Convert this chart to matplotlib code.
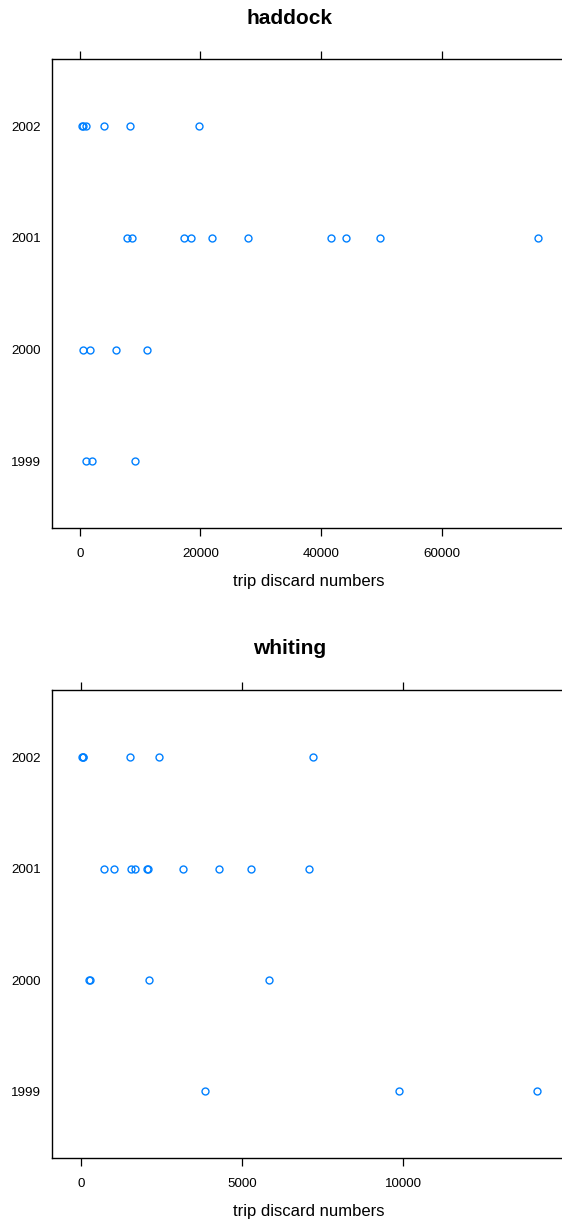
import matplotlib
matplotlib.use('Agg')
import matplotlib.pyplot as plt
import numpy as np

plt.rcParams['font.family'] = ['Liberation Sans', 'DejaVu Sans']

years = ['1999', '2000', '2001', '2002']

# haddock trip discard numbers per year
haddock_1999 = [995, 2090, 9120]
haddock_2000 = [500, 1760, 6070, 11210]
haddock_2001 = [7790, 8720, 17300, 18410, 21990, 27910, 41680, 44210, 49750, 76050]
haddock_2002 = [330, 600, 1045, 4080, 8340, 19830]

# whiting trip discard numbers per year
whiting_1999 = [3860, 9860, 14130]
whiting_2000 = [255, 280, 2095, 5825]
whiting_2001 = [720, 1030, 1545, 1690, 2060, 2085, 3155, 4290, 5260, 7070]
whiting_2002 = [30, 50, 70, 1525, 2420, 7195]

haddock_ticks = [0, 20000, 40000, 60000]
whiting_ticks = [0, 5000, 10000]

blue = '#0080ff'

fig = plt.figure(figsize=(5.62, 12.22), dpi=100)


def panel(rect, groups, ticks, xlim, title, title_y):
    ax = fig.add_axes(rect)
    for i, vals in enumerate(groups):
        ax.plot(vals, [i + 1] * len(vals), 'o', ms=5, mfc='none', mec=blue, mew=1.0,
                clip_on=False)
    ax.set_xlim(*xlim)
    ax.set_ylim(0.4, 4.6)
    ax.set_yticks([1, 2, 3, 4])
    ax.set_yticklabels(years)
    ax.set_xticks(ticks)
    ax.set_xticklabels([str(t) for t in ticks])
    ax.tick_params(axis='x', direction='out', length=6, width=0.9, top=True,
                   labeltop=False, labelsize=9.6, pad=8)
    ax.tick_params(axis='y', length=0, labelsize=9.6, pad=8)
    ax.spines['right'].set_visible(False)
    for s in ['left', 'top', 'bottom']:
        ax.spines[s].set_linewidth(1.0)
    ax.set_xlabel('trip discard numbers', fontsize=12, labelpad=10)
    fig.text(290 / 562, title_y, title, ha='center', va='center',
             fontsize=15, fontweight='bold')
    return ax


panel([0.092, 0.5677, 0.915, 0.3838],
      [haddock_1999, haddock_2000, haddock_2001, haddock_2002],
      haddock_ticks, (-4650, 80600), 'haddock', 1 - 18 / 1222)

panel([0.093, 0.0521, 0.914, 0.3830],
      [whiting_1999, whiting_2000, whiting_2001, whiting_2002],
      whiting_ticks, (-890, 15040), 'whiting', 1 - 649 / 1222)

fig.savefig('out.png', dpi=100)
